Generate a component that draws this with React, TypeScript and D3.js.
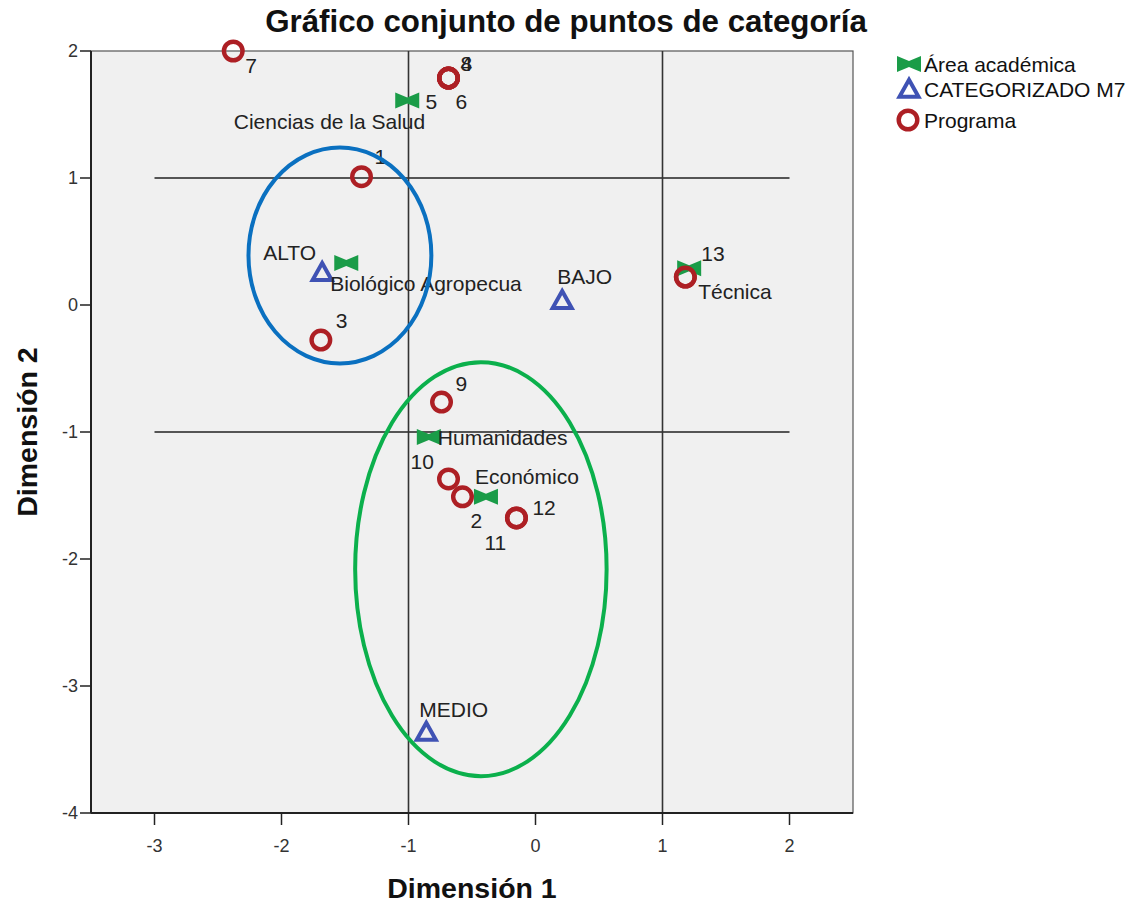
import React from "react";
import * as d3 from "d3";

// ---------- data ----------
const xTicks = [-3, -2, -1, 0, 1, 2];
const yTicks = [2, 1, 0, -1, -2, -3, -4];
const xDomain = [-3.5, 2.5];
const yDomain = [-4, 2];

const areaNames = ["Ciencias de la Salud", "Biológico Agropecua", "Técnica", "Humanidades", "Económico"];
const areaX = [-1.01, -1.49, 1.21, -0.84, -0.39];
const areaY = [1.61, 0.33, 0.29, -1.04, -1.51];

const catNames = ["ALTO", "BAJO", "MEDIO"];
const catX = [-1.68, 0.21, -0.86];
const catY = [0.25, 0.03, -3.37];

const progNames = ["1", "2", "3", "4", "5", "6", "7", "8", "9", "10", "11", "12", "13"];
const progX = [-1.37, -0.575, -1.69, -0.685, -0.685, -0.685, -2.38, -0.685, -0.74, -0.685, -0.15, -0.15, 1.18];
const progY = [1.01, -1.51, -0.276, 1.787, 1.787, 1.787, 2.0, 1.787, -0.764, -1.37, -1.677, -1.677, 0.22];

const refH = [1, -1];
const refV = [-1, 1];

// annotation ellipses (data units: cx, cy, rx, ry)
const ellipseBlue = [-1.54, 0.39, 0.72, 0.85];
const ellipseGreen = [-0.43, -2.08, 0.99, 1.63];

const legendLabels = ["Área académica", "CATEGORIZADO M7", "Programa"];

// ---------- label placement (style) ----------
type LP = [number, number, string];
const areaLabelPos: LP[] = [
  [18, 28, "end"],
  [-16, 28, "start"],
  [9, 31, "start"],
  [9, 8, "start"],
  [-11, -13, "start"],
];
const catLabelPos: LP[] = [
  [-6, -13, "end"],
  [-5, -17, "start"],
  [-7, -16, "start"],
];
const progLabelPos: LP[] = [
  [13, -13, "start"],
  [8, 31, "start"],
  [15, -12, "start"],
  [12, -7, "start"],
  [-23, 31, "start"],
  [7, 31, "start"],
  [12, 22, "start"],
  [12, -7, "start"],
  [14, -11, "start"],
  [-38, -10, "start"],
  [-32, 32, "start"],
  [16, -3, "start"],
  [16, -16, "start"],
];

const RED = "#ad1f24";
const GREEN = "#1a9c48";
const BLUE = "#3f52b4";

const W = 1128;
const H = 903;
const plot = { left: 91, right: 853, top: 51, bottom: 813 };

const bowtie = "M-12,-8 L0,-3 L12,-8 L12,8 L0,3 L-12,8 Z";
const tri = (s: number) => `M0,${-s * 0.6} L${s * 0.56},${s * 0.4} L${-s * 0.56},${s * 0.4} Z`;

export default function App() {
  const x = d3.scaleLinear().domain(xDomain).range([plot.left, plot.right]);
  const y = d3.scaleLinear().domain(yDomain).range([plot.bottom, plot.top]);
  const sx = (v: number) => x(v) - x(0);
  const sy = (v: number) => y(0) - y(v);

  const labelFont = "'Liberation Sans', Arial, sans-serif";
  const tickFont = "'Liberation Sans Narrow', 'Liberation Sans', Arial, sans-serif";
  const LF = 21;

  return (
    <svg width={W} height={H} style={{ position: "absolute", left: 0, top: 0, background: "#fff" }}>
      <text x={566} y={32} textAnchor="middle" fontFamily={labelFont} fontWeight="bold" fontSize={31.3} fill="#111">
        Gráfico conjunto de puntos de categoría
      </text>

      <rect x={plot.left} y={plot.top} width={plot.right - plot.left} height={plot.bottom - plot.top} fill="#f0f0f0" stroke="#555" strokeWidth={1.2} />

      {/* reference lines */}
      {refH.map((v) => (
        <line key={"h" + v} x1={x(-3)} x2={x(2)} y1={y(v)} y2={y(v)} stroke="#222" strokeWidth={1.3} />
      ))}
      {refV.map((v) => (
        <line key={"v" + v} x1={x(v)} x2={x(v)} y1={plot.top} y2={plot.bottom} stroke="#333" strokeWidth={1.6} />
      ))}

      {/* axes */}
      <line x1={plot.left} x2={plot.left} y1={plot.top} y2={plot.bottom} stroke="#222" strokeWidth={2} />
      <line x1={plot.left} x2={plot.right} y1={plot.bottom} y2={plot.bottom} stroke="#222" strokeWidth={2} />
      {yTicks.map((t) => (
        <g key={"yt" + t}>
          <line x1={plot.left - 11} x2={plot.left} y1={y(t)} y2={y(t)} stroke="#222" strokeWidth={1.5} />
          <text x={plot.left - 13} y={y(t) + 6} textAnchor="end" fontFamily={tickFont} fontSize={18} fill="#333">
            {t}
          </text>
        </g>
      ))}
      {xTicks.map((t) => (
        <g key={"xt" + t}>
          <line x1={x(t)} x2={x(t)} y1={plot.bottom} y2={plot.bottom + 12} stroke="#222" strokeWidth={1.5} />
          <text x={x(t)} y={plot.bottom + 39} textAnchor="middle" fontFamily={tickFont} fontSize={18} fill="#333">
            {t}
          </text>
        </g>
      ))}

      <text x={(plot.left + plot.right) / 2} y={898} textAnchor="middle" fontFamily={labelFont} fontWeight="bold" fontSize={28.5} fill="#111">
        Dimensión 1
      </text>
      <text transform={`translate(37,${(plot.top + plot.bottom) / 2}) rotate(-90)`} textAnchor="middle" fontFamily={labelFont} fontWeight="bold" fontSize={28.5} fill="#111">
        Dimensión 2
      </text>

      {/* program circles */}
      {progNames.map((n, i) => (
        <circle key={"pc" + n} cx={x(progX[i])} cy={y(progY[i])} r={9.3} fill="none" stroke={RED} strokeWidth={4.4} />
      ))}
      {/* areas */}
      {areaNames.map((n, i) =>
        n === "Técnica" ? null : (
          <path key={"a" + n} d={bowtie} transform={`translate(${x(areaX[i])},${y(areaY[i])})`} fill={GREEN} />
        )
      )}
      {/* Técnica marker sits under circle 13 */}
      {areaNames.map((n, i) =>
        n === "Técnica" ? (
          <g key={"at" + n}>
            <path d={bowtie} transform={`translate(${x(areaX[i])},${y(areaY[i])})`} fill={GREEN} />
            <circle cx={x(progX[12])} cy={y(progY[12])} r={9.3} fill="none" stroke={RED} strokeWidth={4.4} />
          </g>
        ) : null
      )}
      {/* categories */}
      {catNames.map((n, i) => (
        <path key={"c" + n} d={tri(17)} transform={`translate(${x(catX[i])},${y(catY[i])})`} fill="none" stroke={BLUE} strokeWidth={4} strokeLinejoin="miter" />
      ))}

      {/* labels */}
      {areaNames.map((n, i) => (
        <text key={"al" + n} x={x(areaX[i]) + areaLabelPos[i][0]} y={y(areaY[i]) + areaLabelPos[i][1]} textAnchor={areaLabelPos[i][2] as any} fontFamily={labelFont} fontSize={LF} fill="#222">
          {n}
        </text>
      ))}
      {catNames.map((n, i) => (
        <text key={"cl" + n} x={x(catX[i]) + catLabelPos[i][0]} y={y(catY[i]) + catLabelPos[i][1]} textAnchor={catLabelPos[i][2] as any} fontFamily={labelFont} fontSize={LF} fill="#222">
          {n}
        </text>
      ))}
      {progNames.map((n, i) => (
        <text key={"pl" + n} x={x(progX[i]) + progLabelPos[i][0]} y={y(progY[i]) + progLabelPos[i][1]} textAnchor={progLabelPos[i][2] as any} fontFamily={labelFont} fontSize={LF} fill="#222">
          {n}
        </text>
      ))}

      {/* annotation ellipses */}
      <ellipse cx={x(ellipseBlue[0])} cy={y(ellipseBlue[1])} rx={sx(ellipseBlue[2])} ry={sy(ellipseBlue[3])} fill="none" stroke="#0a70c0" strokeWidth={4} />
      <ellipse cx={x(ellipseGreen[0])} cy={y(ellipseGreen[1])} rx={sx(ellipseGreen[2])} ry={sy(ellipseGreen[3])} fill="none" stroke="#0bb04c" strokeWidth={4} />

      {/* legend */}
      {legendLabels.map((l, i) => {
        const ly = [64, 89, 120][i];
        return (
          <g key={"lg" + l}>
            {i === 0 && <path d={bowtie} transform={`translate(909,${ly})`} fill={GREEN} />}
            {i === 1 && <path d={tri(17)} transform={`translate(909,${ly + 1})`} fill="none" stroke={BLUE} strokeWidth={4} />}
            {i === 2 && <circle cx={908} cy={ly} r={9.3} fill="none" stroke={RED} strokeWidth={4.4} />}
            <text x={924} y={ly + 8} fontFamily={labelFont} fontSize={LF} fill="#111">
              {l}
            </text>
          </g>
        );
      })}
    </svg>
  );
}
